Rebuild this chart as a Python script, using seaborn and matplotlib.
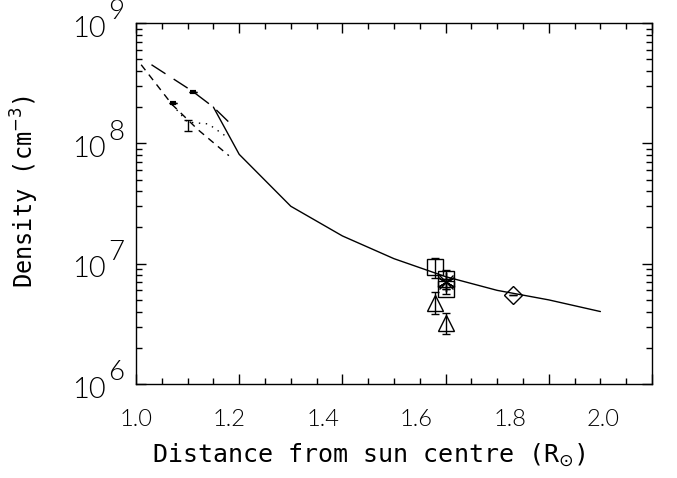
import numpy as np
import pandas as pd
import matplotlib
matplotlib.use("Agg")
import matplotlib.pyplot as plt
import seaborn as sns

# model curves (distance in solar radii, density in cm^-3)
solid_x = [1.15, 1.2, 1.3, 1.4, 1.5, 1.6, 1.7, 1.8, 1.9]
solid_y = [2.0e8, 8.1e7, 3.0e7, 1.7e7, 1.1e7, 7.8e6, 6.0e6, 5.0e6, 4.0e6]

longdash_x = [1.03, 1.11, 1.15, 1.18]
longdash_y = [4.5e8, 2.7e8, 2.0e8, 1.5e8]

dashdot_x = [1.01, 1.07, 1.12, 1.18]
dashdot_y = [4.5e8, 2.1e8, 1.3e8, 7.9e7]

dotted_x = [1.07, 1.10, 1.14, 1.18]
dotted_y = [2.1e8, 1.5e8, 1.45e8, 1.1e8]

# observations
obs_x = [1.58, 1.58, 1.60, 1.60, 1.60, 1.60, 1.73, 1.072, 1.11, 1.10]
obs_y = [9.3e6, 4.7e6, 7.5e6, 6.2e6, 7.05e6, 3.2e6, 5.46e6, 2.16e8, 2.67e8, 1.4e8]
obs_lo = [7.6e6, 3.85e6, 7.5e6, 6.2e6, 5.6e6, 2.6e6, 5.46e6, 2.16e8, 2.67e8, 1.26e8]
obs_hi = [1.11e7, 5.8e6, 7.5e6, 6.2e6, 8.8e6, 3.9e6, 5.46e6, 2.16e8, 2.67e8, 1.56e8]
obs_kind = ["square", "triangle", "square", "square", "star", "triangle", "diamond", "dot", "dot", "bar"]

x_labels = ["1.0", "1.2", "1.4", "1.6", "1.8", "2.0"]
y_exponents = ["6", "7", "8", "9"]

sns.set_theme(style="white")
plt.rcParams["font.family"] = ["DejaVu Sans"]
plt.rcParams["text.color"] = "black"
thin = ["Lato", "DejaVu Sans"]
mono = ["DejaVu Sans Mono", "DejaVu Sans"]

fig = plt.figure(figsize=(6.77, 4.78), dpi=100)
ax = fig.add_axes([136 / 677, 1 - 384 / 478, 516 / 677, 361 / 478])

lw = 1.0
sns.lineplot(x=solid_x, y=solid_y, ax=ax, color="black", lw=lw)
sns.lineplot(x=longdash_x, y=longdash_y, ax=ax, color="black", lw=lw,
             linestyle=(0, (12, 7)))
sns.lineplot(x=dashdot_x, y=dashdot_y, ax=ax, color="black", lw=lw,
             linestyle=(0, (5, 4)))
sns.lineplot(x=dotted_x, y=dotted_y, ax=ax, color="black", lw=lw,
             linestyle=(0, (1, 4)))

obs = pd.DataFrame({"x": obs_x, "y": obs_y, "lo": obs_lo, "hi": obs_hi, "kind": obs_kind})
ax.errorbar(obs["x"], obs["y"], yerr=[obs["y"] - obs["lo"], obs["hi"] - obs["y"]],
            fmt="none", ecolor="black", elinewidth=1, capsize=3, capthick=1)

marker_map = {"square": "s", "triangle": "^", "diamond": "D", "star": (6, 2, 0)}
size_map = {"square": 12, "triangle": 12, "diamond": 9, "star": 14}
for kind, m in marker_map.items():
    sub = obs[obs["kind"] == kind]
    ax.plot(sub["x"], sub["y"], ls="none", marker=m, ms=size_map[kind],
            mfc="none", mec="black", mew=1)
star = obs[obs["kind"] == "star"]
ax.plot(star["x"], star["y"], ls="none", marker="x", ms=10, mec="black", mew=1)
dots = obs[obs["kind"] == "dot"]
ax.plot(dots["x"], dots["y"], ls="none", marker="_", ms=5, mec="black", mew=3)

ax.set_yscale("log")
ax.set_xlim(1.0, 2.0)
ax.set_ylim(1e6, 1e9)
ax.set_xticks(np.arange(1.0, 2.01, 0.2))
ax.set_xticks(np.arange(1.0, 2.01, 0.05), minor=True)
ax.set_xticklabels([])
ax.set_yticks([1e6, 1e7, 1e8, 1e9])
ax.set_yticklabels([])
ax.yaxis.set_minor_formatter(plt.NullFormatter())
ax.tick_params(which="both", direction="in", bottom=True, top=True, left=True, right=True,
               colors="black", width=1)
ax.tick_params(which="major", length=7)
ax.tick_params(which="minor", length=4)
for s in ax.spines.values():
    s.set_color("black")
    s.set_linewidth(1)

# x tick labels sit on a slightly compressed scale in the reference
xt = ax.get_xaxis_transform()
for lab in x_labels:
    pos = 1 + (float(lab) - 1) * 0.906
    ax.text(pos, -0.07, lab, transform=xt, ha="center", va="top", fontsize=17,
            family=thin, fontweight=300)

# y tick labels: "10" with a full-size raised exponent
yt = ax.get_yaxis_transform()
for e in y_exponents:
    v = 10.0 ** int(e)
    ax.annotate("10", xy=(0, v), xycoords=yt, xytext=(-22, -4), textcoords="offset points",
                ha="right", va="center", fontsize=21, family=thin, fontweight=300)
    ax.annotate(e, xy=(0, v), xycoords=yt, xytext=(-20, 8), textcoords="offset points",
                ha="left", va="center", fontsize=20, family=thin, fontweight=300)

ax.text(0.4516, -0.197, r"Distance from sun centre (R$_{\odot}$)", transform=ax.transAxes,
        ha="center", va="center", fontsize=18, family=mono)
ax.text(-0.215, 0.532, r"Density (cm$^{-3}$)", transform=ax.transAxes, rotation=90,
        ha="center", va="center", fontsize=17, family=mono)

fig.savefig("out.png", dpi=100)
